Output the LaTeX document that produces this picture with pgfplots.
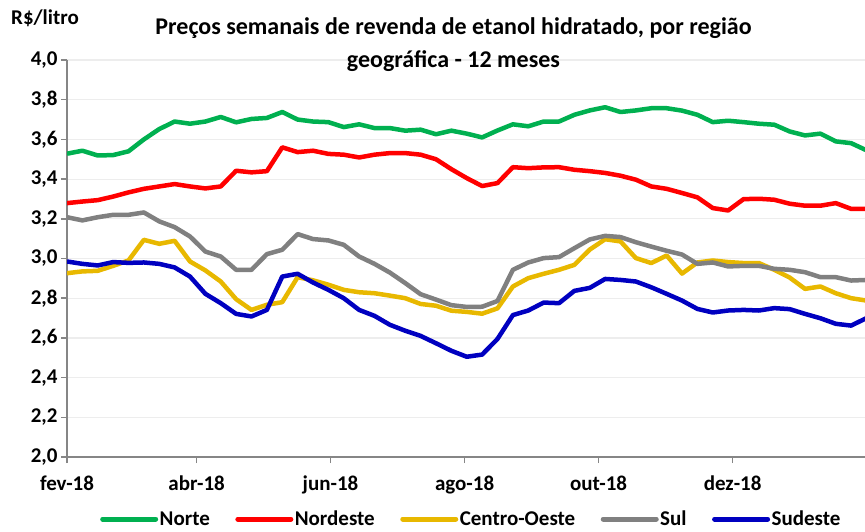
\documentclass[border=0pt]{standalone}
\usepackage{pgfplots}
\pgfplotsset{compat=1.18}
\usepackage{fontspec}
\setmainfont{Carlito}
\definecolor{cnorte}{HTML}{00B050}
\definecolor{cnordeste}{HTML}{FF0000}
\definecolor{ccentro}{HTML}{E8B800}
\definecolor{csul}{HTML}{808080}
\definecolor{csudeste}{HTML}{0000C0}
\definecolor{axisgray}{HTML}{868686}
\definecolor{gridgray}{HTML}{EDEDED}
\begin{document}
\begin{tikzpicture}[x=1pt,y=1pt]
\path[use as bounding box] (0,0) rectangle (865,531);
\begin{axis}[
  at={(67pt,74pt)}, anchor=south west,
  scale only axis, width=798pt, height=397pt,
  xmin=0, xmax=51.9, ymin=2, ymax=4,
  ytick={2,2.2,2.4,2.6,2.8,3,3.2,3.4,3.6,3.8,4},
  xtick={0,8.43,17.14,25.86,34.57,43.29},
  xticklabels={fev-18,abr-18,jun-18,ago-18,out-18,dez-18},
  /pgf/number format/assume math mode=true,
  yticklabel={\pgfmathprintnumber[fixed,fixed zerofill,precision=1,use comma]{\tick}},
  ticklabel style={font=\fontsize{21}{24}\selectfont\bfseries},
  xticklabel style={yshift=-9pt},
  axis lines=left,
  axis line style={-, draw=axisgray, line width=1.5pt},
  tick style={draw=axisgray, line width=1.5pt},
  major tick length=6pt, tick align=outside,
  ymajorgrids, major grid style={draw=gridgray, line width=1.2pt},
  clip=true,
  legend columns=5,
  legend style={at={(0.5063,-0.1562)}, anchor=center, draw=none, fill=none,
    font=\fontsize{21}{24}\selectfont\bfseries,
    nodes={inner sep=1.5pt},
    /tikz/every even column/.append style={column sep=24pt}},
  legend image code/.code={\draw[#1, line width=5pt, line cap=round] (0pt,0pt) -- (53pt,0pt);},
  every axis plot/.append style={line width=4.5pt, line join=round, mark=none},
]
\addplot[cnorte] coordinates {
(0,3.528)(1,3.543)(2,3.519)(3,3.521)(4,3.540)(5,3.600)(6,3.652)(7,3.690)(8,3.679)(9,3.690)
(10,3.713)(11,3.686)(12,3.703)(13,3.708)(14,3.738)(15,3.700)(16,3.690)(17,3.687)(18,3.662)(19,3.676)
(20,3.657)(21,3.657)(22,3.644)(23,3.649)(24,3.626)(25,3.644)(26,3.629)(27,3.610)(28,3.645)(29,3.676)
(30,3.666)(31,3.690)(32,3.690)(33,3.724)(34,3.746)(35,3.762)(36,3.738)(37,3.746)(38,3.757)(39,3.757)
(40,3.745)(41,3.724)(42,3.687)(43,3.694)(44,3.687)(45,3.679)(46,3.674)(47,3.640)(48,3.620)(49,3.629)
(50,3.590)(51,3.581)(52,3.545)};
\addlegendentry{Norte}
\addplot[cnordeste] coordinates {
(0,3.279)(1,3.287)(2,3.294)(3,3.312)(4,3.333)(5,3.351)(6,3.363)(7,3.375)(8,3.363)(9,3.353)
(10,3.363)(11,3.442)(12,3.434)(13,3.440)(14,3.560)(15,3.536)(16,3.543)(17,3.527)(18,3.523)(19,3.509)
(20,3.523)(21,3.531)(22,3.531)(23,3.523)(24,3.500)(25,3.450)(26,3.405)(27,3.365)(28,3.380)(29,3.460)
(30,3.455)(31,3.459)(32,3.460)(33,3.447)(34,3.440)(35,3.431)(36,3.417)(37,3.397)(38,3.363)(39,3.351)
(40,3.330)(41,3.308)(42,3.254)(43,3.242)(44,3.299)(45,3.301)(46,3.296)(47,3.276)(48,3.266)(49,3.266)
(50,3.279)(51,3.250)(52,3.250)};
\addlegendentry{Nordeste}
\addplot[ccentro] coordinates {
(0,2.926)(1,2.935)(2,2.938)(3,2.963)(4,2.990)(5,3.094)(6,3.074)(7,3.089)(8,2.985)(9,2.940)
(10,2.884)(11,2.795)(12,2.741)(13,2.767)(14,2.780)(15,2.906)(16,2.890)(17,2.868)(18,2.842)(19,2.830)
(20,2.825)(21,2.813)(22,2.800)(23,2.771)(24,2.762)(25,2.737)(26,2.731)(27,2.722)(28,2.749)(29,2.859)
(30,2.901)(31,2.923)(32,2.943)(33,2.968)(34,3.045)(35,3.097)(36,3.086)(37,3.002)(38,2.977)(39,3.015)
(40,2.924)(41,2.980)(42,2.990)(43,2.982)(44,2.977)(45,2.977)(46,2.943)(47,2.904)(48,2.847)(49,2.859)
(50,2.825)(51,2.800)(52,2.788)};
\addlegendentry{Centro-Oeste}
\addplot[csul] coordinates {
(0,3.208)(1,3.192)(2,3.208)(3,3.220)(4,3.220)(5,3.232)(6,3.187)(7,3.158)(8,3.111)(9,3.035)
(10,3.010)(11,2.943)(12,2.943)(13,3.022)(14,3.044)(15,3.123)(16,3.098)(17,3.091)(18,3.069)(19,3.010)
(20,2.973)(21,2.929)(22,2.876)(23,2.820)(24,2.793)(25,2.765)(26,2.756)(27,2.757)(28,2.786)(29,2.943)
(30,2.980)(31,3.002)(32,3.007)(33,3.052)(34,3.096)(35,3.114)(36,3.108)(37,3.082)(38,3.060)(39,3.039)
(40,3.020)(41,2.973)(42,2.980)(43,2.960)(44,2.963)(45,2.963)(46,2.948)(47,2.943)(48,2.931)(49,2.906)
(50,2.906)(51,2.889)(52,2.892)};
\addlegendentry{Sul}
\addplot[csudeste] coordinates {
(0,2.985)(1,2.973)(2,2.965)(3,2.982)(4,2.978)(5,2.980)(6,2.973)(7,2.955)(8,2.909)(9,2.822)
(10,2.775)(11,2.721)(12,2.708)(13,2.741)(14,2.909)(15,2.923)(16,2.879)(17,2.842)(18,2.800)(19,2.741)
(20,2.711)(21,2.666)(22,2.636)(23,2.610)(24,2.573)(25,2.535)(26,2.505)(27,2.516)(28,2.595)(29,2.715)
(30,2.738)(31,2.778)(32,2.775)(33,2.837)(34,2.852)(35,2.897)(36,2.892)(37,2.884)(38,2.855)(39,2.822)
(40,2.788)(41,2.746)(42,2.728)(43,2.738)(44,2.741)(45,2.738)(46,2.750)(47,2.745)(48,2.721)(49,2.699)
(50,2.671)(51,2.662)(52,2.700)};
\addlegendentry{Sudeste}
\end{axis}
\node[anchor=base west, font=\fontsize{21}{24}\selectfont\bfseries, inner sep=0pt] at (11,506) {R\$/litro};
\node[anchor=base, font=\fontsize{24}{28}\selectfont\bfseries, inner sep=0pt] at (453.5,496) {Preços semanais de revenda de etanol hidratado, por região};
\node[anchor=base, font=\fontsize{24}{28}\selectfont\bfseries, inner sep=0pt] at (453.5,463) {geográfica - 12 meses};
\end{tikzpicture}
\end{document}
